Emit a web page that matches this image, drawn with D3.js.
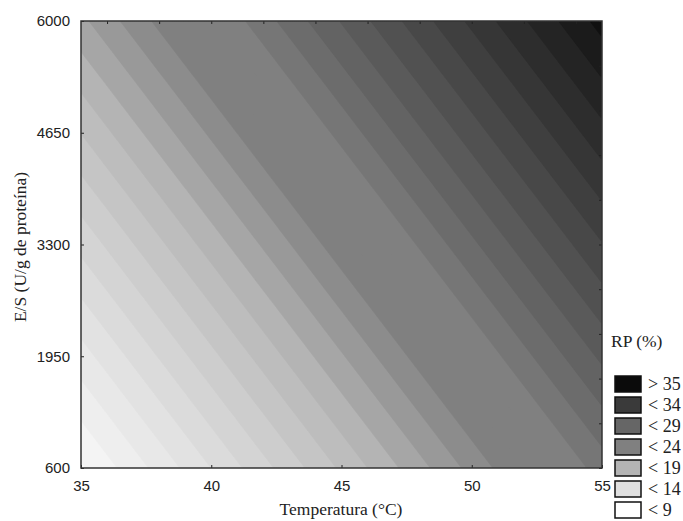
<!DOCTYPE html>
<html>
<head>
<meta charset="utf-8">
<script src="https://cdn.jsdelivr.net/npm/d3@7"></script>
<style>
  body { margin: 0; background: #fff; }
  svg text { fill: #222; }
</style>
</head>
<body>
<div id="chart"></div>
<script>
const [WIDTH, HEIGHT] = [683, 521];

// axis ticks
const temperatureTicks = [35, 40, 45, 50, 55];
const esTicks = [600, 1950, 3300, 4650, 6000];

const modelCoefs = [8.85, 0.832, 0.002019];

// contour levels (RP %) and the gray of each band (first = below the first level)
const contourLevels = [9, 10, 11, 12, 13, 14, 15, 16, 17, 18, 19, 20, 21, 22, 23, 24, 25,
    26, 27, 28, 29, 30, 31, 32, 33, 34, 35, 36];
const bandGrays = [250, 244, 238, 232, 226, 219, 212, 205, 197, 189, 180, 166, 153, 140,
    128, 128, 128, 118, 108, 99, 90, 81, 72, 63, 54, 45, 36, 27, 16];

// legend
const legendLabels = ['> 35', '< 34', '< 29', '< 24', '< 19', '< 14', '< 9'];
const legendGrays = [11, 58, 102, 128, 180, 224, 255];

const MARGIN = { left: 81, right: 602, top: 21, bottom: 468 };
const GRID = { nx: 260, ny: 224 };

const gray = (v) => `rgb(${v},${v},${v})`;

const svg = d3.select('#chart').append('svg')
    .attr('width', WIDTH)
    .attr('height', HEIGHT);

const x = d3.scaleLinear().domain([35, 55]).range([MARGIN.left, MARGIN.right]);
const y = d3.scaleLinear().domain([600, 6000]).range([MARGIN.bottom, MARGIN.top]);

const color = d3.scaleThreshold()
    .domain(contourLevels)
    .range(bandGrays.map(gray));

// sample the surface at cell centres
const values = new Array(GRID.nx * GRID.ny);
for (let j = 0; j < GRID.ny; j++) {
    const es = 6000 - (j + 0.5) * 5400 / GRID.ny;
    for (let i = 0; i < GRID.nx; i++) {
        const t = 35 + (i + 0.5) * 20 / GRID.nx;
        values[j * GRID.nx + i] = modelCoefs[0] + modelCoefs[1] * (t - 35) + modelCoefs[2] * (es - 600);
    }
}

const contours = d3.contours()
    .size([GRID.nx, GRID.ny])
    .thresholds(contourLevels)(values);

const gx = d3.scaleLinear().domain([0, GRID.nx]).range([MARGIN.left, MARGIN.right]);
const gy = d3.scaleLinear().domain([0, GRID.ny]).range([MARGIN.top, MARGIN.bottom]);
const path = d3.geoPath(d3.geoTransform({
    point(px, py) { this.stream.point(gx(px), gy(py)); }
}));

svg.append('clipPath').attr('id', 'plot-clip')
    .append('rect')
    .attr('x', MARGIN.left).attr('y', MARGIN.top)
    .attr('width', MARGIN.right - MARGIN.left)
    .attr('height', MARGIN.bottom - MARGIN.top);

const plot = svg.append('g').attr('clip-path', 'url(#plot-clip)');

plot.append('rect')
    .attr('x', MARGIN.left).attr('y', MARGIN.top)
    .attr('width', MARGIN.right - MARGIN.left)
    .attr('height', MARGIN.bottom - MARGIN.top)
    .attr('fill', gray(bandGrays[0]));

plot.selectAll('path.band')
    .data(contours)
    .join('path')
    .attr('class', 'band')
    .attr('d', path)
    .attr('fill', (d) => color(d.value))
    .attr('stroke', (d) => color(d.value))
    .attr('stroke-width', 0.5);

// axes: labelled ticks bottom/left, minor inner ticks top/right
const tickFont = { family: 'Liberation Sans, Arial, sans-serif', size: 15 };

svg.append('g')
    .attr('transform', `translate(0,${MARGIN.bottom})`)
    .call(d3.axisBottom(x).tickValues(temperatureTicks).tickFormat(d3.format('d'))
        .tickSizeInner(-3).tickSizeOuter(0).tickPadding(12))
    .call((g) => g.select('.domain').remove())
    .call((g) => g.selectAll('line').attr('stroke', '#222'))
    .call((g) => g.selectAll('text')
        .attr('font-family', tickFont.family).attr('font-size', tickFont.size).attr('fill', '#222'));

svg.append('g')
    .attr('transform', `translate(${MARGIN.left},0)`)
    .call(d3.axisLeft(y).tickValues(esTicks).tickFormat(d3.format('d'))
        .tickSizeInner(-3).tickSizeOuter(0).tickPadding(11))
    .call((g) => g.select('.domain').remove())
    .call((g) => g.selectAll('line').attr('stroke', '#222'))
    .call((g) => g.selectAll('text')
        .attr('font-family', tickFont.family).attr('font-size', tickFont.size).attr('fill', '#222'));

svg.append('g')
    .attr('transform', `translate(0,${MARGIN.top})`)
    .call(d3.axisTop(x).ticks(10).tickSizeInner(-3).tickSizeOuter(0).tickFormat(''))
    .call((g) => g.select('.domain').remove())
    .call((g) => g.selectAll('line').attr('stroke', '#222'));

svg.append('g')
    .attr('transform', `translate(${MARGIN.right},0)`)
    .call(d3.axisRight(y).tickValues(d3.range(600, 6001, 540)).tickSizeInner(-3).tickSizeOuter(0).tickFormat(''))
    .call((g) => g.select('.domain').remove())
    .call((g) => g.selectAll('line').attr('stroke', '#222'));

// frame
svg.append('rect')
    .attr('x', MARGIN.left).attr('y', MARGIN.top)
    .attr('width', MARGIN.right - MARGIN.left)
    .attr('height', MARGIN.bottom - MARGIN.top)
    .attr('fill', 'none')
    .attr('stroke', '#333')
    .attr('stroke-width', 1.5);

// axis titles
const serif = 'Liberation Serif, Times New Roman, serif';

svg.append('text')
    .attr('x', 341).attr('y', 515)
    .attr('text-anchor', 'middle')
    .attr('font-family', serif).attr('font-size', 17.5)
    .text('Temperatura (°C)');

svg.append('text')
    .attr('transform', 'translate(26,247) rotate(-90)')
    .attr('text-anchor', 'middle')
    .attr('font-family', serif).attr('font-size', 17.5)
    .attr('fill', '#222236')
    .text('E/S (U/g de proteína)');

// legend
svg.append('text')
    .attr('x', 611).attr('y', 347)
    .attr('font-family', serif).attr('font-size', 17.5)
    .text('RP (%)');

const legend = svg.selectAll('g.legend-item')
    .data(legendLabels)
    .join('g')
    .attr('class', 'legend-item')
    .attr('transform', (d, i) => `translate(615,${376 + i * 21})`);

legend.append('rect')
    .attr('width', 26).attr('height', 16)
    .attr('fill', (d, i) => gray(legendGrays[i]))
    .attr('stroke', '#111')
    .attr('stroke-width', 1.5);

legend.append('text')
    .attr('x', 33).attr('y', 14)
    .attr('font-family', serif).attr('font-size', 18)
    .text((d) => d);
</script>
</body>
</html>
